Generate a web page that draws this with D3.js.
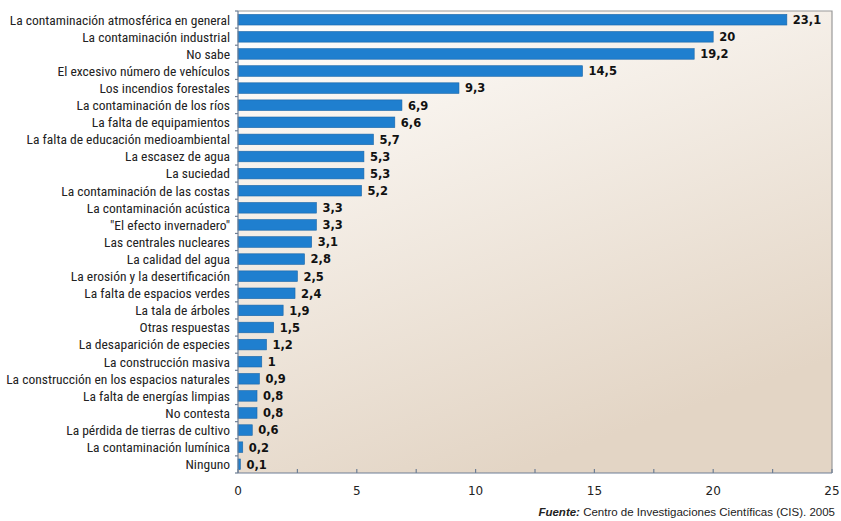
<!DOCTYPE html>
<html>
<head>
<meta charset="utf-8">
<script src="https://cdn.jsdelivr.net/npm/d3@7"></script>
<style>
  body { margin: 0; background: #fff; }
  #chart { width: 841px; height: 521px; }
  .cat { font-family: "Liberation Sans Narrow", "Roboto Condensed", "Liberation Sans", sans-serif; font-size: 13.5px; fill: #222; }
  .val { font-family: "DejaVu Sans", Verdana, sans-serif; font-size: 11.5px; font-weight: bold; fill: #111; }
  .xlab { font-family: "DejaVu Sans", Verdana, sans-serif; font-size: 12px; fill: #222; }
  .src { font-family: "Liberation Sans", Arial, sans-serif; font-size: 11.5px; fill: #222; }
</style>
</head>
<body>
<div id="chart"></div>
<script>
const categories = [
  "La contaminación atmosférica en general",
  "La contaminación industrial",
  "No sabe",
  "El excesivo número de vehículos",
  "Los incendios forestales",
  "La contaminación de los ríos",
  "La falta de equipamientos",
  "La falta de educación medioambiental",
  "La escasez de agua",
  "La suciedad",
  "La contaminación de las costas",
  "La contaminación acústica",
  "\"El efecto invernadero\"",
  "Las centrales nucleares",
  "La calidad del agua",
  "La erosión y la desertificación",
  "La falta de espacios verdes",
  "La tala de árboles",
  "Otras respuestas",
  "La desaparición de especies",
  "La construcción masiva",
  "La construcción en los espacios naturales",
  "La falta de energías limpias",
  "No contesta",
  "La pérdida de tierras de cultivo",
  "La contaminación lumínica",
  "Ninguno"
];
const values = [23.1, 20, 19.2, 14.5, 9.3, 6.9, 6.6, 5.7, 5.3, 5.3, 5.2, 3.3, 3.3, 3.1, 2.8, 2.5, 2.4, 1.9, 1.5, 1.2, 1, 0.9, 0.8, 0.8, 0.6, 0.2, 0.1];
const xTicks = [0, 5, 10, 15, 20, 25];
const minorTicks = [0, 2.5, 5, 7.5, 10, 12.5, 15, 17.5, 20, 22.5, 25];

const data = categories.map((c, i) => ({cat: c, val: values[i]}));

//CONSTANTS
const w = 841, h = 521;
const pL = 238, pR = 832, pT = 11, pB = 473;

const svg = d3.select("#chart")
  .append("svg")
  .attr("width", w)
  .attr("height", h);

const grad = svg.append("defs")
  .append("linearGradient")
  .attr("id", "bg")
  .attr("x1", 0).attr("y1", 0)
  .attr("x2", 0.45).attr("y2", 1);
grad.append("stop").attr("offset", "0%").attr("stop-color", "#ffffff");
grad.append("stop").attr("offset", "30%").attr("stop-color", "#f7f2ec");
grad.append("stop").attr("offset", "100%").attr("stop-color", "#e3d5c5");

const xScale = d3.scaleLinear().domain([0, 25]).range([pL, pR]);
const yScale = d3.scaleBand()
  .domain(categories)
  .range([pT, pB])
  .paddingInner(0.38)
  .paddingOuter(0.2);

// plot background + frame
svg.append("rect")
  .attr("x", pL).attr("y", pT)
  .attr("width", pR - pL).attr("height", pB - pT)
  .attr("fill", "url(#bg)");
svg.append("path")
  .attr("d", `M${pL},${pT}H${pR}V${pB}`)
  .attr("fill", "none")
  .attr("stroke", "#9a9a9a")
  .attr("stroke-width", 1.2);

// bars
svg.selectAll("rect.bar")
  .data(data)
  .enter()
  .append("rect")
  .classed("bar", true)
  .attr("x", xScale(0))
  .attr("y", d => yScale(d.cat))
  .attr("width", d => xScale(d.val) - xScale(0))
  .attr("height", yScale.bandwidth())
  .attr("fill", "#1f7fcf")
  .attr("stroke", "#1a66a8")
  .attr("stroke-width", 0.6);

// value labels
svg.selectAll("text.val")
  .data(data)
  .enter()
  .append("text")
  .classed("val", true)
  .attr("x", d => xScale(d.val) + 6)
  .attr("y", d => yScale(d.cat) + yScale.bandwidth() / 2)
  .attr("dy", "0.38em")
  .text(d => String(d.val).replace(".", ","));

// category labels
svg.selectAll("text.cat")
  .data(data)
  .enter()
  .append("text")
  .classed("cat", true)
  .attr("x", pL - 8)
  .attr("y", d => yScale(d.cat) + yScale.bandwidth() / 2)
  .attr("dy", "0.36em")
  .attr("text-anchor", "end")
  .text(d => d.cat);

// left axis, ticks between categories
const yAxis = svg.append("g").attr("stroke", "#6f7f95").attr("stroke-width", 1.2);
yAxis.append("line")
  .attr("x1", pL).attr("x2", pL)
  .attr("y1", pT).attr("y2", pB);
yAxis.selectAll("line.tk")
  .data(d3.range(categories.length + 1))
  .enter()
  .append("line")
  .classed("tk", true)
  .attr("x1", pL - 3).attr("x2", pL)
  .attr("y1", i => pT + i * (pB - pT) / categories.length)
  .attr("y2", i => pT + i * (pB - pT) / categories.length);

// bottom axis
const xAxis = svg.append("g").attr("stroke", "#6f7f95").attr("stroke-width", 1.2);
xAxis.append("line")
  .attr("x1", pL).attr("x2", pR)
  .attr("y1", pB).attr("y2", pB);
xAxis.selectAll("line.tk")
  .data(minorTicks)
  .enter()
  .append("line")
  .classed("tk", true)
  .attr("x1", d => xScale(d)).attr("x2", d => xScale(d))
  .attr("y1", pB).attr("y2", pB - 4);

svg.selectAll("text.xlab")
  .data(xTicks)
  .enter()
  .append("text")
  .classed("xlab", true)
  .attr("x", d => xScale(d))
  .attr("y", 495)
  .attr("text-anchor", "middle")
  .text(d => d);

// source
const src = svg.append("text")
  .classed("src", true)
  .attr("x", 835)
  .attr("y", 516)
  .attr("text-anchor", "end");
src.append("tspan")
  .attr("font-weight", "bold")
  .attr("font-style", "italic")
  .text("Fuente:");
src.append("tspan").text(" Centro de Investigaciones Científicas (CIS). 2005");
</script>
</body>
</html>
